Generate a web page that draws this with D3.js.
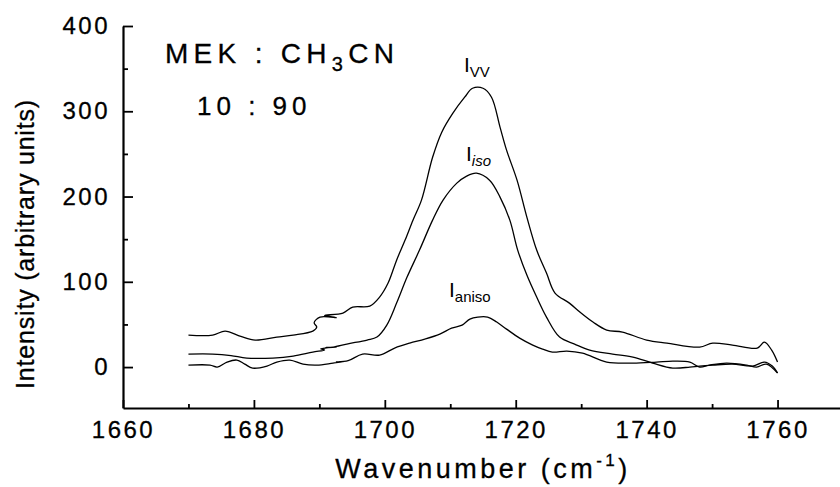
<!DOCTYPE html>
<html>
<head>
<meta charset="utf-8">
<script src="https://cdn.jsdelivr.net/npm/d3@7"></script>
<style>
  body { margin: 0; background: #fff; }
  text { font-family: "Liberation Sans", Arial, sans-serif; fill: #000; }
</style>
</head>
<body>
<div id="chart"></div>
<script>
// spectra: [wavenumber, intensity]
var vvData = [
  [1670, 37.5], [1673.7, 37.5], [1675.6, 42.2], [1678, 36], [1680.2, 31.7], [1683.5, 35.2],
  [1686, 37.5], [1689, 42.2], [1689.6, 47], [1689.2, 52], [1690.1, 58.6], [1692.6, 58],
  [1690.8, 60.5], [1693.6, 63.3], [1695.1, 70.3], [1697.7, 71.5], [1699.2, 82], [1700.5, 98.5],
  [1701.8, 125.4], [1703.1, 148.9], [1704.3, 172.3], [1705.6, 195.8], [1707.3, 246],
  [1708.7, 275.5], [1710.4, 297.8], [1712.2, 316.5], [1713.4, 327], [1715, 327], [1716.3, 316.5],
  [1717.6, 281.4], [1718.6, 254.4], [1720.2, 219.2], [1721.7, 175.8], [1723.2, 137.2],
  [1724.7, 110.2], [1726, 86.8], [1728.2, 75], [1729.8, 64.5], [1731.8, 52.8], [1733.9, 43.4],
  [1736.3, 41], [1740, 31.7], [1743.1, 28.1], [1748.1, 23.4], [1750.1, 28.1], [1753.1, 25.8],
  [1756.9, 22.3], [1758, 29.3], [1759.1, 19.9], [1760, 5.9]
]
var isoData = [
  [1670, 15.2], [1673.7, 15.2], [1676.5, 13.5], [1678.9, 10.6], [1682.9, 10.6], [1686, 12.9],
  [1689, 17.6], [1690.8, 20], [1690.2, 21.5], [1692.6, 23.5], [1691, 23], [1692.1, 23.4],
  [1694.2, 27], [1697.3, 31.7], [1698.8, 35.2], [1700.3, 49.2], [1701.8, 75], [1703.4, 105.5],
  [1705.3, 137.2], [1707.3, 172.3], [1708.9, 195.8], [1711, 215.7], [1712.5, 224], [1714, 227.4],
  [1716, 219.2], [1717.6, 199.3], [1719.1, 172.3], [1720.3, 137.2], [1721.7, 107.9],
  [1723.2, 82.1], [1724.7, 58.6], [1726.7, 35.2], [1729, 27], [1731.3, 19.9], [1734.8, 15.2],
  [1737.9, 11.7], [1740.9, 4.7], [1744, -1.2], [1746.6, 0], [1748.1, 1.2], [1750.1, 2.3],
  [1753.1, 3.5], [1756.2, 1.2], [1758, 5.9], [1759.2, 1.2], [1760, -7]
]
var anisoData = [
  [1670, 2.3], [1673.3, 2.3], [1674.4, 0], [1675.9, 5.9], [1677.4, 8.2], [1678.6, 3.5],
  [1679.8, -1.2], [1682, 1.2], [1683.5, 5.9], [1685.5, 8.2], [1687.5, 3.5], [1689.6, 2.3],
  [1692.1, 4.7], [1694.2, 7], [1692.6, 6], [1694.4, 7.5], [1696.6, 15.2], [1699.2, 14.1],
  [1701.5, 22.3], [1703.8, 28.1], [1706.1, 32.8], [1708.4, 38.7], [1710.2, 45.7], [1711.8, 49.2],
  [1713, 56.3], [1714.2, 58.6], [1715.7, 58.6], [1717.1, 52.8], [1718.6, 44.5], [1720.6, 34],
  [1722.6, 25.8], [1724.1, 21.1], [1725.6, 17.6], [1727.8, 18.8], [1730.2, 16.4], [1733.9, 5.9],
  [1737.9, 4.7], [1741.5, 5.9], [1744, 7], [1746.6, 5.9], [1748.1, 0], [1749.6, 2.3],
  [1752.2, 4.7], [1755.3, 2.3], [1756.8, 0], [1758.3, 3.5], [1760, -7]
]
var xMajor = [1660, 1680, 1700, 1720, 1740, 1760]
var xMinor = [1670, 1690, 1710, 1730, 1750, 1770]
var yMajor = [0, 100, 200, 300, 400]
var yMinor = [-50, 50, 150, 250, 350]

var svgw = 840
var svgh = 487
var margin = {top: 26, right: -3, bottom: 79, left: 123}

var svg = d3.select('#chart').append('svg')
    .attr('width', svgw)
    .attr('height', svgh)

var x = d3.scaleLinear()
    .domain([1660, 1770])
    .range([margin.left, svgw - margin.right])
var y = d3.scaleLinear()
    .domain([-48, 400])
    .range([svgh - margin.bottom, margin.top])

// x axis, ticks pointing in
svg.append('g')
    .attr('transform', 'translate(0,' + y(-48) + ')')
    .call(d3.axisBottom(x).tickValues(xMajor).tickSize(-8).tickSizeOuter(0).tickPadding(13)
      .tickFormat(d3.format('d')))
svg.append('g')
    .attr('transform', 'translate(0,' + y(-48) + ')')
    .call(d3.axisBottom(x).tickValues(xMinor).tickSize(-4).tickSizeOuter(0).tickFormat(''))
    .select('.domain').remove()

svg.append('g')
    .attr('transform', 'translate(' + x(1660) + ',0)')
    .call(d3.axisLeft(y).tickValues(yMajor).tickSize(-10).tickSizeOuter(0).tickPadding(13))
svg.append('g')
    .attr('transform', 'translate(' + x(1660) + ',0)')
    .call(d3.axisLeft(y).tickValues(yMinor.filter(function(d){ return d > -48 }))
      .tickSize(-5).tickSizeOuter(0).tickFormat(''))
    .select('.domain').remove()

svg.selectAll('.domain').attr('stroke', '#000').attr('stroke-width', 2.2)
svg.selectAll('.tick line').attr('stroke', '#000').attr('stroke-width', 1.8)
svg.selectAll('.tick text')
    .attr('font-size', 24)
    .attr('letter-spacing', 2.5)
    .attr('font-family', '"Liberation Sans", Arial, sans-serif')
    .attr('fill', '#000')
    .attr('stroke', '#000')
    .attr('stroke-width', 0.3)

// axis titles
var xt = svg.append('text')
    .attr('x', x(1715))
    .attr('y', 478)
    .attr('text-anchor', 'middle')
    .attr('font-size', 27)
    .attr('letter-spacing', 3.5)
    .attr('stroke', '#000')
    .attr('stroke-width', 0.3)
xt.append('tspan').text('Wavenumber (cm')
xt.append('tspan').attr('font-size', 17).attr('dy', -12).text('-1')
xt.append('tspan').attr('dy', 12).text(')')

svg.append('text')
    .attr('transform', 'translate(34,244) rotate(-90)')
    .attr('text-anchor', 'middle')
    .attr('font-size', 25)
    .attr('letter-spacing', 0.8)
    .attr('stroke', '#000')
    .attr('stroke-width', 0.3)
    .text('Intensity (arbitrary units)')

// spectra
var line = d3.line()
    .x(function(d){ return x(d[0]) })
    .y(function(d){ return y(d[1]) })
    .curve(d3.curveCatmullRom.alpha(0.5))

svg.selectAll('.spectrum')
    .data([vvData, isoData, anisoData])
    .enter()
    .append('path')
    .classed('spectrum', true)
    .attr('d', line)
    .attr('fill', 'none')
    .attr('stroke', '#000')
    .attr('stroke-width', 1.3)
    .attr('stroke-linejoin', 'round')

// sample label
var mek = svg.append('text')
    .attr('x', 165)
    .attr('y', 63)
    .attr('font-size', 28)
    .attr('letter-spacing', 5.3)
    .attr('stroke', '#000')
    .attr('stroke-width', 0.3)
mek.append('tspan').text('MEK : CH')
mek.append('tspan').attr('font-size', 20).attr('dy', 8).text('3')
mek.append('tspan').attr('dy', -8).text('CN')

svg.append('text')
    .attr('x', 197)
    .attr('y', 115)
    .attr('font-size', 26)
    .attr('letter-spacing', 5)
    .attr('stroke', '#000')
    .attr('stroke-width', 0.3)
    .text('10 : 90')

// curve labels
var labels = [
  {sub: 'VV', x: 1712.1, y: 72, style: 'normal'},
  {sub: 'iso', x: 1712.4, y: 161, style: 'italic'},
  {sub: 'aniso', x: 1709.8, y: 297, style: 'normal'}
]
labels.forEach(function(l){
  var t = svg.append('text')
      .attr('x', x(l.x))
      .attr('y', l.y)
      .attr('font-size', 21)
  t.append('tspan').text('I')
  t.append('tspan')
      .attr('font-size', 15)
      .attr('dy', 5)
      .attr('font-style', l.style)
      .text(l.sub)
})
</script>
</body>
</html>
